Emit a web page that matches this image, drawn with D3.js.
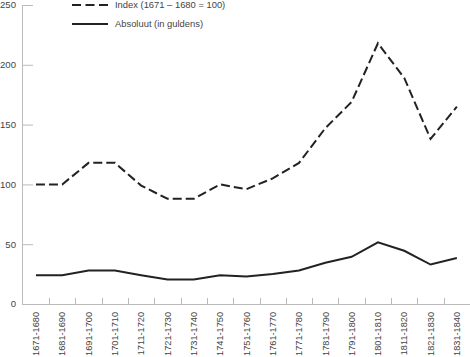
<!DOCTYPE html>
<html>
<head>
<meta charset="utf-8">
<script src="https://cdn.jsdelivr.net/npm/d3@7"></script>
<style>
  html, body { margin: 0; padding: 0; background: #fff; }
  svg { display: block; font-family: "Liberation Sans", Arial, sans-serif; }
</style>
</head>
<body>
<svg id="chart" width="470" height="357"></svg>
<script>
const categories = ["1671-1680","1681-1690","1691-1700","1701-1710","1711-1720","1721-1730","1731-1740","1741-1750","1751-1760","1761-1770","1771-1780","1781-1790","1791-1800","1801-1810","1811-1820","1821-1830","1831-1840"];
const indexValues = [100, 100, 118, 118, 99, 88, 88, 100, 96, 105, 118, 147, 169, 218, 189, 138, 165];
const absoluteValues = [24, 24, 28, 28, 24, 20.5, 20.5, 24, 23, 25, 28, 34.5, 39.5, 51.5, 44.5, 33, 38.5];
const yTicks = [0, 50, 100, 150, 200, 250];
const legendLabels = ["Index (1671 \u2013 1680 = 100)", "Absoluut (in guldens)"];

const svg = d3.select("#chart");
const axisColor = "#bbbbbb";
const textColor = "#444444";
const lineColor = "#222222";

const x = d3.scaleBand().domain(categories).range([22.8, 470]).padding(0);
const y = d3.scaleLinear().domain([0, 250]).range([304, 5]);
const cx = d => x(d) + x.bandwidth() / 2;

// Y axis
const yAxis = svg.append("g").attr("transform", "translate(22,0)")
  .call(d3.axisRight(y).tickValues(yTicks).tickSize(11).tickFormat(d => ""));
yAxis.select(".domain").remove();
yAxis.selectAll(".tick line").attr("stroke", axisColor);
svg.append("line").attr("x1", 22.5).attr("x2", 22.5).attr("y1", y(250)).attr("y2", y(0))
  .attr("stroke", axisColor).attr("stroke-width", 1);
svg.append("g").selectAll("text").data(yTicks).join("text")
  .attr("x", 16).attr("y", d => y(d)).attr("dy", "0.35em")
  .attr("text-anchor", "end").attr("font-size", 9.6).attr("fill", textColor)
  .text(d => d);

// X axis
svg.append("line").attr("x1", 22).attr("x2", 470).attr("y1", 304.5).attr("y2", 304.5)
  .attr("stroke", axisColor);
const boundaries = categories.map(c => x(c) + x.bandwidth());
svg.append("g").selectAll("line").data(boundaries).join("line")
  .attr("x1", d => Math.round(d) + 0.5).attr("x2", d => Math.round(d) + 0.5)
  .attr("y1", 298).attr("y2", 304).attr("stroke", axisColor);
svg.append("g").selectAll("text").data(categories).join("text")
  .attr("transform", d => `translate(${cx(d)},312) rotate(-90)`)
  .attr("text-anchor", "end").attr("dy", "0.35em")
  .attr("font-size", 9.2).attr("fill", textColor)
  .text(d => d);

// Lines
const lineGen = d3.line().x((d, i) => cx(categories[i])).y(d => y(d));
svg.append("path").datum(indexValues).attr("d", lineGen)
  .attr("fill", "none").attr("stroke", lineColor).attr("stroke-width", 2)
  .attr("stroke-dasharray", "9,4");
svg.append("path").datum(absoluteValues).attr("d", lineGen)
  .attr("fill", "none").attr("stroke", lineColor).attr("stroke-width", 2);

// Legend
const legend = svg.append("g");
const legendY = [5, 24];
legend.selectAll("line").data(legendLabels).join("line")
  .attr("x1", 72).attr("x2", 108)
  .attr("y1", (d, i) => legendY[i]).attr("y2", (d, i) => legendY[i])
  .attr("stroke", lineColor).attr("stroke-width", 2)
  .attr("stroke-dasharray", (d, i) => i === 0 ? "9,4.5" : null);
legend.selectAll("text").data(legendLabels).join("text")
  .attr("x", 115).attr("y", (d, i) => legendY[i]).attr("dy", "0.35em")
  .attr("font-size", 9.4).attr("fill", textColor)
  .text(d => d);
</script>
</body>
</html>
